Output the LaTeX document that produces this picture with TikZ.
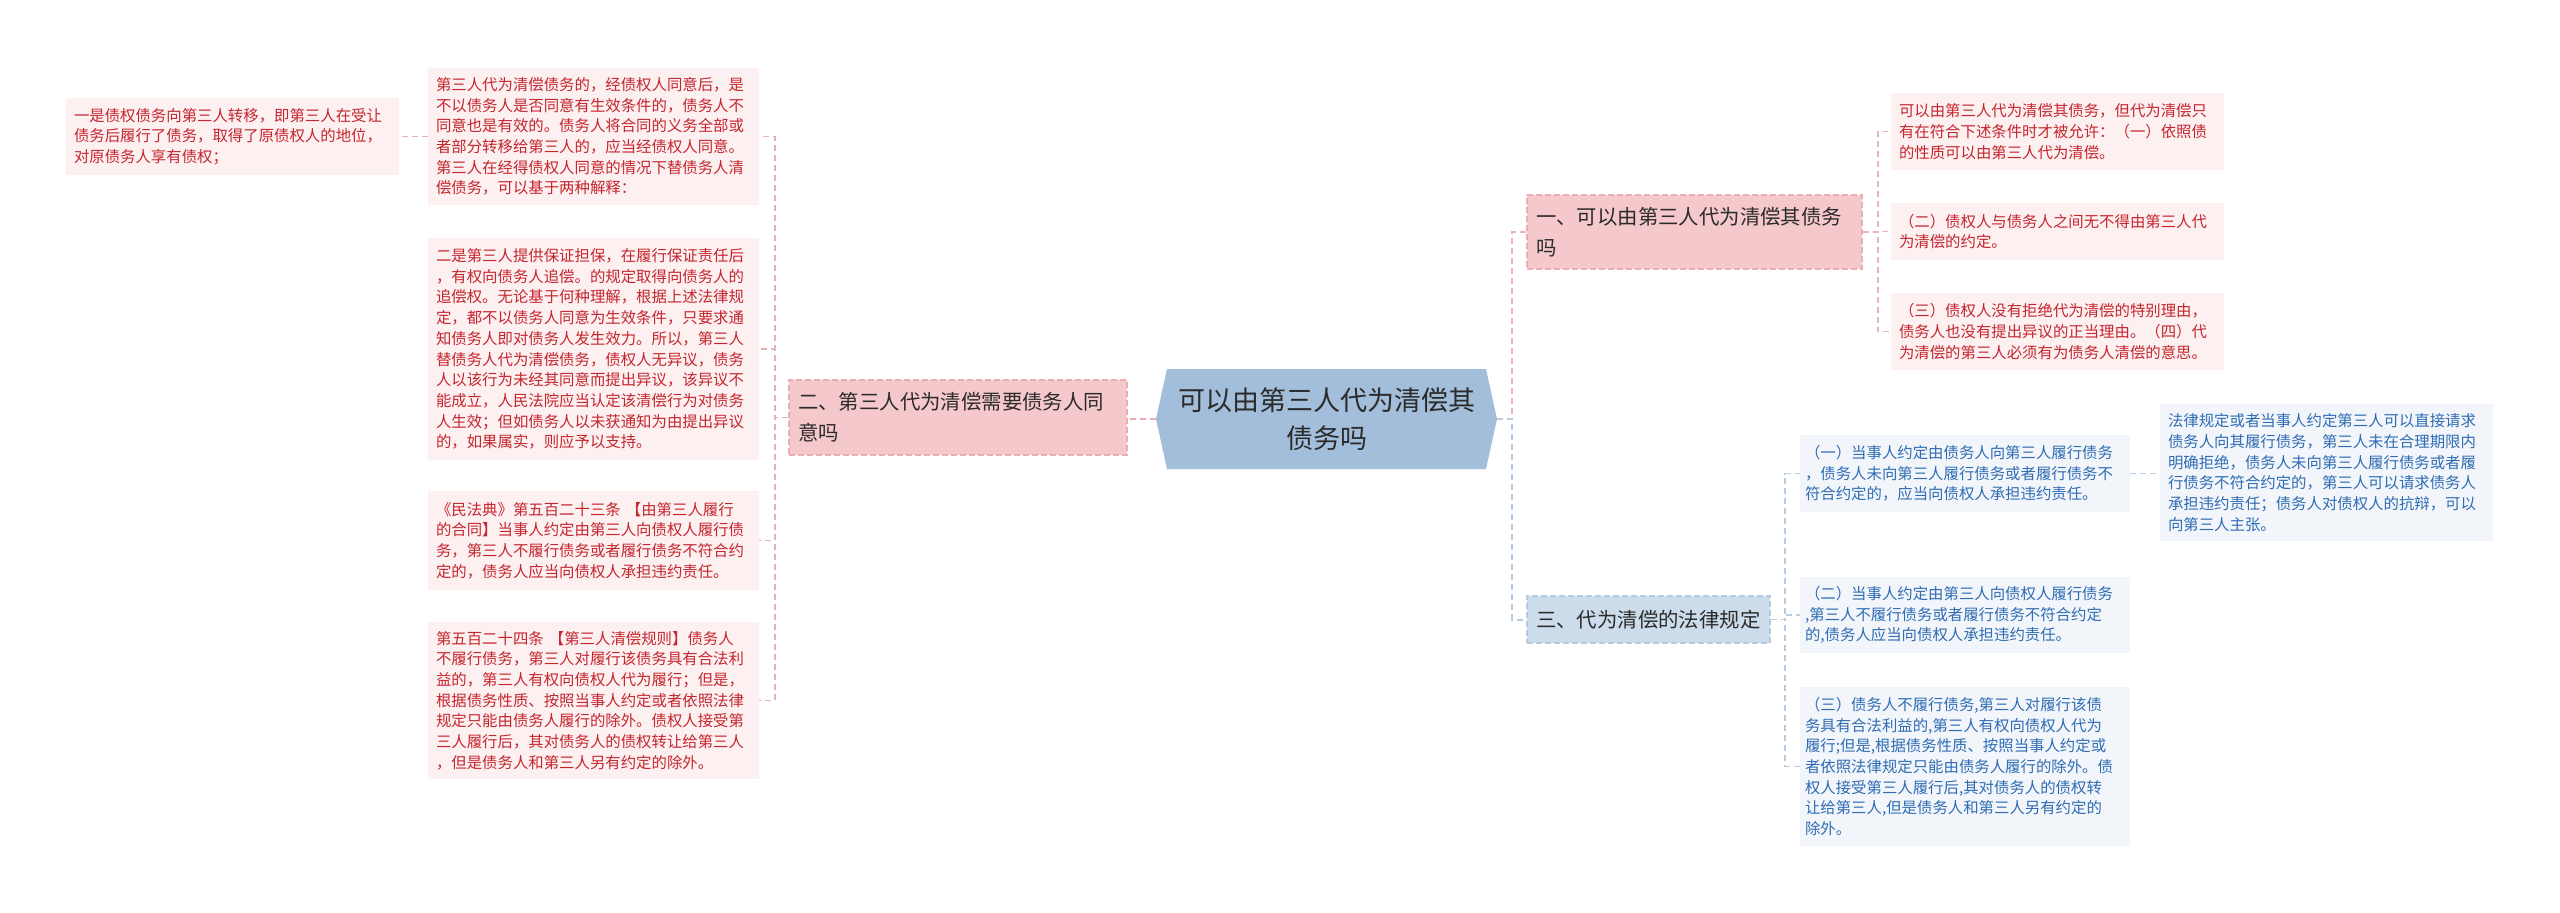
\documentclass[tikz,border=0pt]{standalone}
\usepackage{fontspec}
\newfontfamily\cjkfont{Noto Sans CJK SC}
\usetikzlibrary{backgrounds}
\definecolor{pleaf}{HTML}{FDF0F1}
\definecolor{ptext}{HTML}{C4262E}
\definecolor{bleaf}{HTML}{F2F6FB}
\definecolor{btext}{HTML}{2F6CB3}
\definecolor{pmid}{HTML}{F5C8CB}
\definecolor{pmidline}{HTML}{E8AEB3}
\definecolor{bmid}{HTML}{CCDCEB}
\definecolor{bmidline}{HTML}{B5CBE0}
\definecolor{hexfill}{HTML}{A3BEDA}
\definecolor{darktext}{HTML}{2B2B2B}
\definecolor{lline}{HTML}{E2B4B8}
\definecolor{pline}{HTML}{E9B5BA}
\definecolor{bline}{HTML}{B7CCE1}
\tikzset{
  leafbase/.style={rectangle, inner xsep=4pt, inner ysep=0pt, align=left,
    font=\cjkfont\fontsize{7.7}{10.35}\selectfont},
  pinkleaf/.style={leafbase, fill=pleaf, text=ptext},
  blueleaf/.style={leafbase, fill=bleaf, text=btext},
  midbase/.style={rectangle, inner xsep=4.5pt, inner ysep=0pt, align=left,
    line width=0.75pt, dash pattern=on 3pt off 1.5pt, text=darktext,
    font=\cjkfont\fontsize{10.2}{15.5}\selectfont},
  pinkmid/.style={midbase, fill=pmid, draw=pmidline},
  bluemid/.style={midbase, fill=bmid, draw=bmidline},
  conn/.style={line width=0.75pt, dash pattern=on 3pt off 2pt},
  lconn/.style={conn, draw=lline},
  pconn/.style={conn, draw=pline},
  bconn/.style={conn, draw=bline},
}
\begin{document}
\begin{tikzpicture}[x=0.5pt,y=-0.5pt]
\begin{scope}[on background layer]
  \fill[white] (0,0) rectangle (2560,912);
\end{scope}
\useasboundingbox (0,0) rectangle (2560,912);

% central hexagon
\fill[hexfill] (1156,419) -- (1167,369) -- (1486,369) -- (1497,419) -- (1486,469) -- (1167,469) -- cycle;
\node[text=darktext, align=center, minimum width=170.5pt, minimum height=50pt, inner sep=0pt,
  font=\cjkfont\fontsize{13.5}{18.8}\selectfont] (c) at (1326.5,419)
  {可以由第三人代为清偿其\\债务吗};

% middle nodes
\node[pinkmid, text width=160pt, minimum height=37.5pt] (n2) at (958,417.5)
  {二、第三人代为清偿需要债务人同\\意吗};
\node[pinkmid, text width=158.5pt, minimum height=37pt] (n1) at (1694.5,232)
  {一、可以由第三人代为清偿其债务\\吗};
\node[bluemid, text width=112.5pt, minimum height=23.5pt] (n3) at (1648.5,619.5)
  {三、代为清偿的法律规定};

% left leaves
\node[pinkleaf, text width=158.5pt, minimum height=38.5pt] (LL) at (232.5,136.5)
  {一是债权债务向第三人转移，即第三人在受让\\
   债务后履行了债务，取得了原债权人的地位，\\
   对原债务人享有债权；};
\node[pinkleaf, text width=157.5pt, minimum height=68.5pt] (L1) at (593.5,136.5)
  {第三人代为清偿债务的，经债权人同意后，是\\
   不以债务人是否同意有生效条件的，债务人不\\
   同意也是有效的。债务人将合同的义务全部或\\
   者部分转移给第三人的，应当经债权人同意。\\
   第三人在经得债权人同意的情况下替债务人清\\
   偿债务，可以基于两种解释：};
\node[pinkleaf, text width=157.5pt, minimum height=111pt] (L2) at (593.5,349)
  {二是第三人提供保证担保，在履行保证责任后\\
   ，有权向债务人追偿。的规定取得向债务人的\\
   追偿权。无论基于何种理解，根据上述法律规\\
   定，都不以债务人同意为生效条件，只要求通\\
   知债务人即对债务人发生效力。所以，第三人\\
   替债务人代为清偿债务，债权人无异议，债务\\
   人以该行为未经其同意而提出异议，该异议不\\
   能成立，人民法院应当认定该清偿行为对债务\\
   人生效；但如债务人以未获通知为由提出异议\\
   的，如果属实，则应予以支持。};
\node[pinkleaf, text width=157.5pt, minimum height=49.5pt] (L3) at (593.5,540.5)
  {《民法典》第五百二十三条 【由第三人履行\\
   的合同】当事人约定由第三人向债权人履行债\\
   务，第三人不履行债务或者履行债务不符合约\\
   定的，债务人应当向债权人承担违约责任。};
\node[pinkleaf, text width=157.5pt, minimum height=78.5pt] (L4) at (593.5,700.5)
  {第五百二十四条 【第三人清偿规则】债务人\\
   不履行债务，第三人对履行该债务具有合法利\\
   益的，第三人有权向债权人代为履行；但是，\\
   根据债务性质、按照当事人约定或者依照法律\\
   规定只能由债务人履行的除外。债权人接受第\\
   三人履行后，其对债务人的债权转让给第三人\\
   ，但是债务人和第三人另有约定的除外。};

% right pink leaves
\node[pinkleaf, text width=158.5pt, minimum height=38.5pt] (R1) at (2057.5,131.5)
  {可以由第三人代为清偿其债务，但代为清偿只\\
   有在符合下述条件时才被允许：（一）依照债\\
   的性质可以由第三人代为清偿。};
\node[pinkleaf, text width=158.5pt, minimum height=28.5pt] (R2) at (2057.5,231.5)
  {（二）债权人与债务人之间无不得由第三人代\\
   为清偿的约定。};
\node[pinkleaf, text width=158.5pt, minimum height=38.5pt] (R3) at (2057.5,331.5)
  {（三）债权人没有拒绝代为清偿的特别理由，\\
   债务人也没有提出异议的正当理由。（四）代\\
   为清偿的第三人必须有为债务人清偿的意思。};

% right blue leaves
\node[blueleaf, inner xsep=2.5pt, text width=160pt, minimum height=38.5pt] (B1) at (1965,473.5)
  {（一）当事人约定由债务人向第三人履行债务\\
   ，债务人未向第三人履行债务或者履行债务不\\
   符合约定的，应当向债权人承担违约责任。};
\node[blueleaf, inner xsep=2.5pt, text width=160pt, minimum height=38pt] (B2) at (1965,615)
  {（二）当事人约定由第三人向债权人履行债务\\
   ,第三人不履行债务或者履行债务不符合约定\\
   的,债务人应当向债权人承担违约责任。};
\node[blueleaf, inner xsep=2.5pt, text width=160pt, minimum height=79.5pt] (B3) at (1965,766.5)
  {（三）债务人不履行债务,第三人对履行该债\\
   务具有合法利益的,第三人有权向债权人代为\\
   履行;但是,根据债务性质、按照当事人约定或\\
   者依照法律规定只能由债务人履行的除外。债\\
   权人接受第三人履行后,其对债务人的债权转\\
   让给第三人,但是债务人和第三人另有约定的\\
   除外。};
\node[blueleaf, text width=158.5pt, minimum height=68.5pt] (BB) at (2326.5,472.5)
  {法律规定或者当事人约定第三人可以直接请求\\
   债务人向其履行债务，第三人未在合理期限内\\
   明确拒绝，债务人未向第三人履行债务或者履\\
   行债务不符合约定的，第三人可以请求债务人\\
   承担违约责任；债务人对债权人的抗辩，可以\\
   向第三人主张。};

% trunk coordinates
\coordinate (tl) at (775,0);
\coordinate (tr) at (1512,0);
\coordinate (t1) at (1878,0);
\coordinate (t3) at (1785,0);

\begin{scope}[on background layer]
  \draw[lconn, line width=1.4pt, draw=pmidline] (c.west) -- (c.west -| n2.east);
  \draw[lconn] (n2.west) -- (n2.west -| tl) |- (L1.east);
  \draw[lconn] (n2.west) -- (n2.west -| tl) |- (L2.east);
  \draw[lconn] (n2.west) -- (n2.west -| tl) |- (L3.east);
  \draw[lconn] (n2.west) -- (n2.west -| tl) |- (L4.east);
  \draw[lconn] (L1.west) -- (L1.west -| LL.east);
  \draw[pconn, line width=1pt] (c.east) -- (c.east -| tr) |- (n1.west);
  \draw[bconn, line width=1pt] (c.east) -- (c.east -| tr) |- (n3.west);
  \draw[pconn] (n1.east) -- (n1.east -| t1) |- (R1.west);
  \draw[pconn] (n1.east) -- (n1.east -| t1) |- (R2.west);
  \draw[pconn] (n1.east) -- (n1.east -| t1) |- (R3.west);
  \draw[bconn] (n3.east) -- (n3.east -| t3) |- (B1.west);
  \draw[bconn] (n3.east) -- (n3.east -| t3) |- (B2.west);
  \draw[bconn] (n3.east) -- (n3.east -| t3) |- (B3.west);
  \draw[bconn] (B1.east) -- (B1.east -| BB.west);
\end{scope}
\end{tikzpicture}
\end{document}
